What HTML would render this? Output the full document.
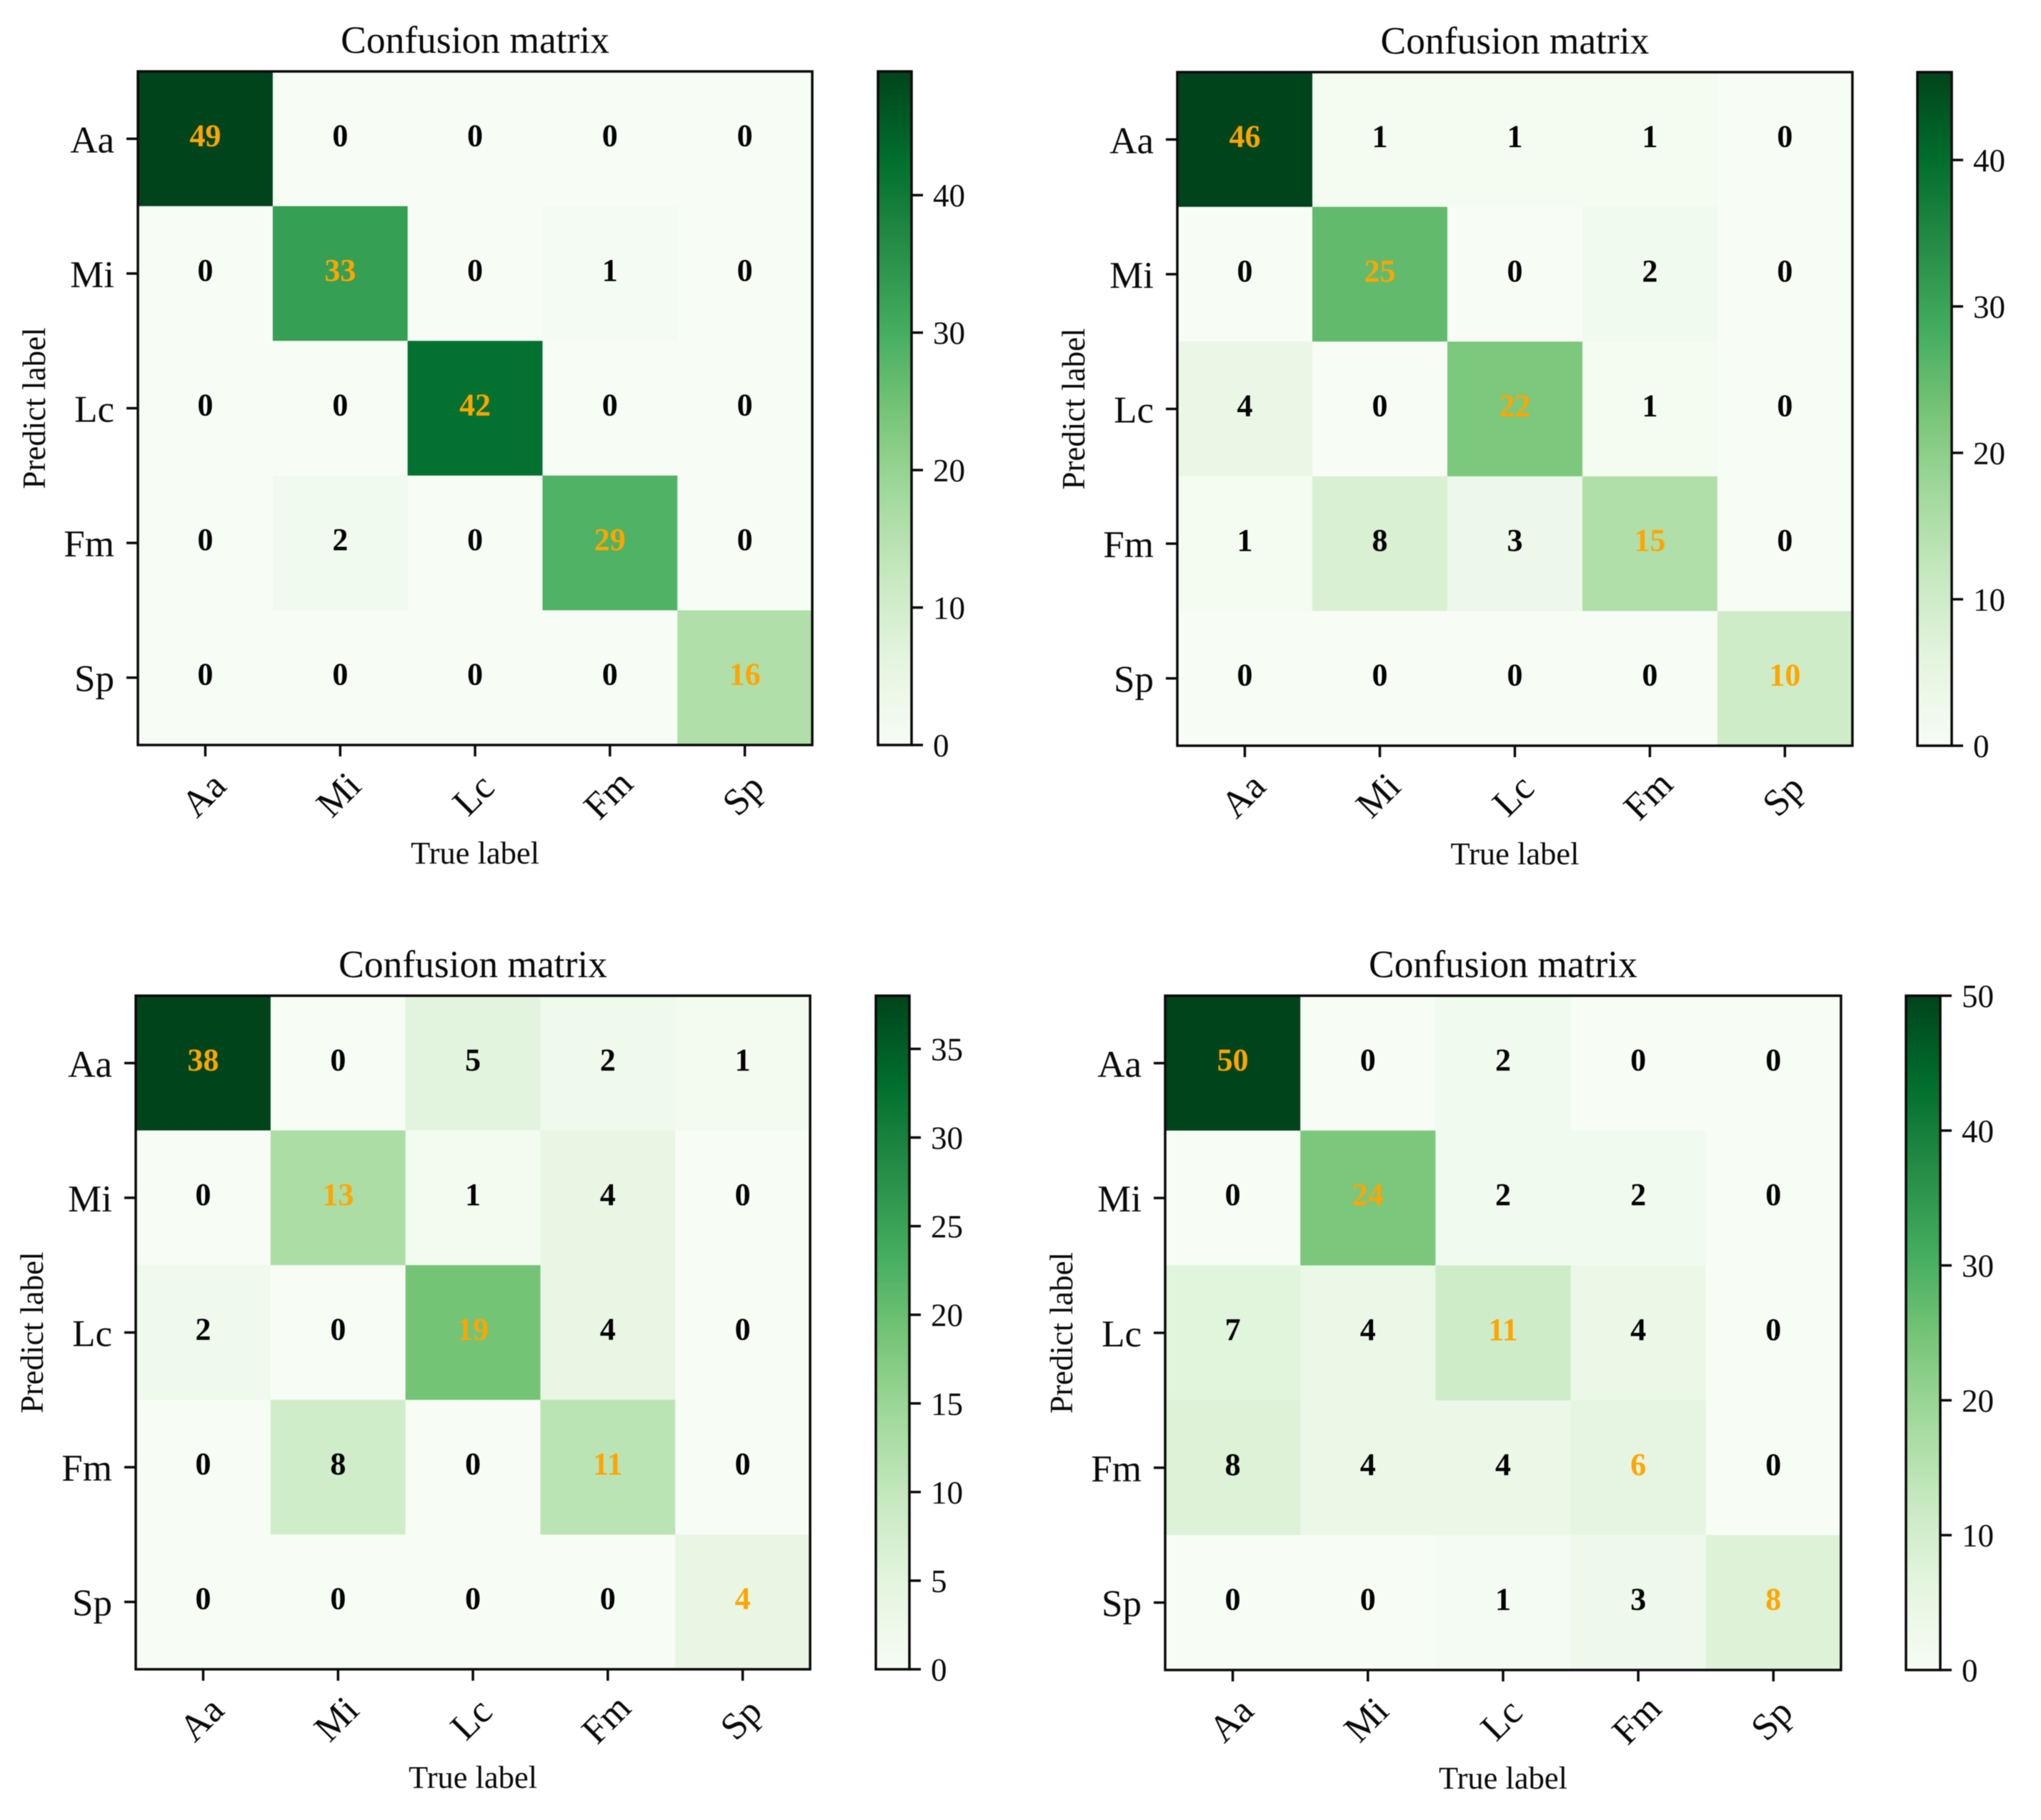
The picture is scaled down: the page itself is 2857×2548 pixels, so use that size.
<!DOCTYPE html>
<html lang="en">
<head>
<meta charset="utf-8">
<title>Confusion matrices</title>
<style>
html,body{margin:0;padding:0;background:#fff;}
#figure{display:block;width:2857px;height:2548px;background:#fff;font-family:"Liberation Serif","Times New Roman",serif;filter:blur(.5px);}
</style>
</head>
<body>
<svg id="figure" xmlns="http://www.w3.org/2000/svg" width="2857" height="2548" viewBox="0 0 2857 2548"></svg>
<script>
const categories = ["Aa", "Mi", "Lc", "Fm", "Sp"];
const chartTitle = "Confusion matrix";
const xAxisTitle = "True label";
const yAxisTitle = "Predict label";

const matrixA = [
  [49, 0, 0, 0, 0],
  [0, 33, 0, 1, 0],
  [0, 0, 42, 0, 0],
  [0, 2, 0, 29, 0],
  [0, 0, 0, 0, 16]
];
const matrixB = [
  [46, 1, 1, 1, 0],
  [0, 25, 0, 2, 0],
  [4, 0, 22, 1, 0],
  [1, 8, 3, 15, 0],
  [0, 0, 0, 0, 10]
];
const matrixC = [
  [38, 0, 5, 2, 1],
  [0, 13, 1, 4, 0],
  [2, 0, 19, 4, 0],
  [0, 8, 0, 11, 0],
  [0, 0, 0, 0, 4]
];
const matrixD = [
  [50, 0, 2, 0, 0],
  [0, 24, 2, 2, 0],
  [7, 4, 11, 4, 0],
  [8, 4, 4, 6, 0],
  [0, 0, 1, 3, 8]
];

const colorbarTicksA = [0, 10, 20, 30, 40];
const colorbarTicksB = [0, 10, 20, 30, 40];
const colorbarTicksC = [0, 5, 10, 15, 20, 25, 30, 35];
const colorbarTicksD = [0, 10, 20, 30, 40, 50];

const greens = ["#f7fcf5", "#e5f5e0", "#c7e9c0", "#a1d99b", "#74c476", "#41ab5d", "#238b45", "#006d2c", "#00441b"];

const panels = [
  { key: "a", matrix: matrixA, ticks: colorbarTicksA, left: 193, right: 1137, top: 100, bottom: 1043, cbLeft: 1229, cbRight: 1276 },
  { key: "b", matrix: matrixB, ticks: colorbarTicksB, left: 1648, right: 2593, top: 101, bottom: 1044, cbLeft: 2684, cbRight: 2732 },
  { key: "c", matrix: matrixC, ticks: colorbarTicksC, left: 190, right: 1134, top: 1394, bottom: 2337, cbLeft: 1226, cbRight: 1273 },
  { key: "d", matrix: matrixD, ticks: colorbarTicksD, left: 1631, right: 2577, top: 1394, bottom: 2338, cbLeft: 2668, cbRight: 2716 }
];

const svgNS = "http://www.w3.org/2000/svg";
const root = document.getElementById("figure");

function make(tag, parent, attrs, text) {
  const node = document.createElementNS(svgNS, tag);
  for (const k in attrs) node.setAttribute(k, attrs[k]);
  if (text !== undefined) node.textContent = text;
  parent.appendChild(node);
  return node;
}
function hexToRgb(h) {
  return [parseInt(h.slice(1, 3), 16), parseInt(h.slice(3, 5), 16), parseInt(h.slice(5, 7), 16)];
}
function colormap(t) {
  const clamped = Math.max(0, Math.min(1, t));
  const p = clamped * (greens.length - 1);
  const i = Math.min(Math.floor(p), greens.length - 2);
  const f = p - i;
  const a = hexToRgb(greens[i]);
  const b = hexToRgb(greens[i + 1]);
  return "rgb(" + a.map((v, n) => Math.round(v + (b[n] - v) * f)).join(",") + ")";
}

const defs = make("defs", root, {});



const LINE = 3.5;
const INK = "#0a0a0a";

panels.forEach(function (panel) {
  const matrix = panel.matrix;
  const n = categories.length;
  const vmax = Math.max.apply(null, matrix.map(r => Math.max.apply(null, r)));
  const xBand = col => panel.left + (panel.right - panel.left) * col / n;
  const yBand = row => panel.top + (panel.bottom - panel.top) * row / n;
  const xCenter = col => xBand(col + 0.5);
  const yCenter = row => yBand(row + 0.5);
  const cbY = v => panel.bottom + (panel.top - panel.bottom) * v / vmax;
  const midX = (panel.left + panel.right) / 2;
  const midY = (panel.top + panel.bottom) / 2;

  const group = make("g", root, {});
  
  

  const title = make("text", group, { x: midX, y: panel.top - 26, "text-anchor": "middle", "font-size": 53.5, fill: INK }, chartTitle);
  
  

  matrix.forEach(function (rowValues, row) {
    rowValues.forEach(function (value, col) {
      const cell = make("rect", group, {
        x: xBand(col), y: yBand(row),
        width: xBand(col + 1) - xBand(col) + 0.5, height: yBand(row + 1) - yBand(row) + 0.5,
        fill: colormap(value / vmax)
      });
      
      
    });
  });

  matrix.forEach(function (rowValues, row) {
    rowValues.forEach(function (value, col) {
      const label = make("text", group, {
        x: xCenter(col), y: yCenter(row) + 10, "text-anchor": "middle",
        "font-size": 44, "font-weight": "bold", fill: row === col ? "#ffa500" : "#000"
      }, String(value));
      
      
    });
  });

  const frame = make("rect", group, {
    x: panel.left, y: panel.top, width: panel.right - panel.left, height: panel.bottom - panel.top,
    fill: "none", stroke: INK, "stroke-width": LINE
  });
  
  

  categories.forEach(function (name, i) {
    const xTick = make("line", group, {
      x1: xCenter(i), x2: xCenter(i), y1: panel.bottom, y2: panel.bottom + 16, stroke: INK, "stroke-width": LINE
    });
    
    

    const xLabelX = xCenter(i) - 2;
    const xLabelY = panel.bottom + 70;
    const xLabel = make("text", group, {
      x: xLabelX, y: xLabelY, dy: 17, "text-anchor": "middle", "font-size": 53, fill: INK,
      transform: "rotate(-45 " + xLabelX + " " + xLabelY + ")"
    }, name);
    
    

    const yTick = make("line", group, {
      x1: panel.left - 16, x2: panel.left, y1: yCenter(i), y2: yCenter(i), stroke: INK, "stroke-width": LINE
    });
    
    

    const yLabel = make("text", group, {
      x: panel.left - 33, y: yCenter(i) + 19, "text-anchor": "end", "font-size": 53, fill: INK
    }, name);
    
    
  });

  const xTitle = make("text", group, {
    x: midX, y: panel.bottom + 166, "text-anchor": "middle", "font-size": 44.5, fill: INK
  }, xAxisTitle);
  
  

  const yTitleX = panel.left - 130;
  const yTitle = make("text", group, {
    x: yTitleX, y: midY, "text-anchor": "middle", "font-size": 45, fill: INK,
    transform: "rotate(-90 " + yTitleX + " " + midY + ")"
  }, yAxisTitle);
  
  

  const gradId = "greens-" + panel.key;
  const grad = make("linearGradient", defs, { id: gradId, x1: 0, y1: 1, x2: 0, y2: 0 });
  greens.forEach(function (c, i) {
    make("stop", grad, { offset: i / (greens.length - 1), "stop-color": c });
  });

  const bar = make("rect", group, {
    x: panel.cbLeft, y: panel.top, width: panel.cbRight - panel.cbLeft, height: panel.bottom - panel.top,
    fill: "url(#" + gradId + ")", stroke: INK, "stroke-width": LINE
  });
  
  

  panel.ticks.forEach(function (v) {
    const cbTick = make("line", group, {
      x1: panel.cbRight, x2: panel.cbRight + 16, y1: cbY(v), y2: cbY(v), stroke: INK, "stroke-width": LINE
    });
    
    

    const cbLabel = make("text", group, {
      x: panel.cbRight + 30, y: cbY(v) + 16, "font-size": 45, fill: INK
    }, String(v));
    
    
  });
});
</script>
</body>
</html>
